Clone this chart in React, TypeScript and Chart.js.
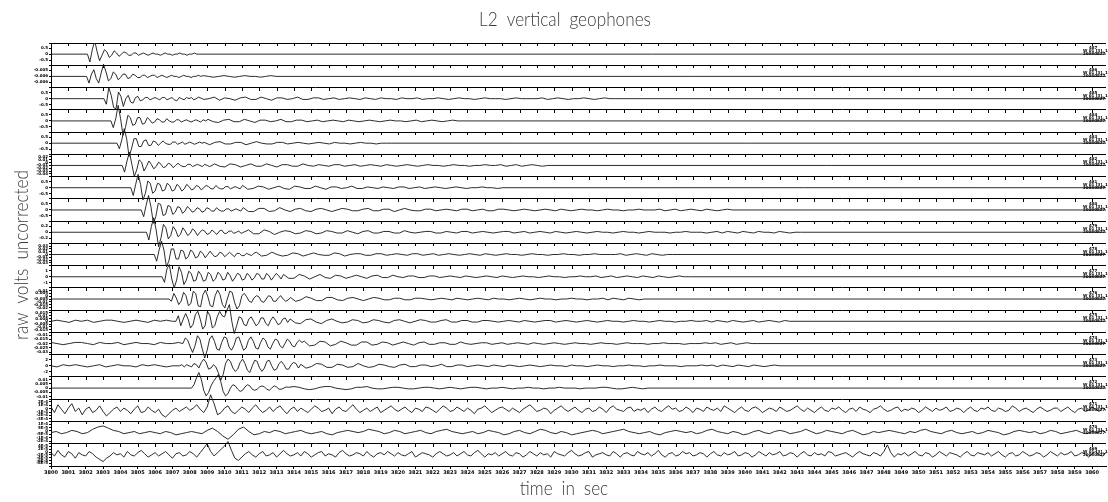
import React, { useEffect, useRef } from 'react';
import { Chart, registerables } from 'chart.js';

Chart.register(...registerables);

// ---------------- text ----------------
const TITLE = 'L2 vertical geophones';
const X_TITLE = 'time in sec';
const Y_TITLE = 'raw volts uncorrected';

// ---------------- axes ----------------
const X_MIN = 0;
const X_MAX = 60.8;
const X_TICK_VALUES = Array.from({ length: 61 }, (_, k) => k);
const X_TICK_LABELS = X_TICK_VALUES.map((k) => String(3800 + k));

const PANEL_COUNT = 19;

// y tick labels per panel (top to bottom inside each panel)
const Y_TICK_LABELS: string[][] = [
  ['0.5', '0', '-0.5'],
  ['-0.005', '-0.006', '-0.006'],
  ['0.5', '0', '-0.5'],
  ['0.5', '0', '-0.5'],
  ['0.5', '0', '-0.5'],
  ['0.02', '0.01', '0', '-0.01', '-0.02', '-0.03', '-0.04'],
  ['0.5', '0', '-0.5'],
  ['0.5', '0', '-0.5'],
  ['0.2', '0', '-0.2'],
  ['0.03', '0.02', '0.01', '0', '-0.01', '-0.02', '-0.03'],
  ['1', '0', '-1'],
  ['0.01', '0.005', '0', '-0.005', '-0.01', '-0.015', '-0.02'],
  ['0.015', '0.01', '0.005', '0', '-0.005', '-0.01', '-0.015'],
  ['-0.01', '-0.015', '-0.02', '-0.025', '-0.03'],
  ['2', '0', '-2'],
  ['0.01', '0.005', '0', '-0.005', '-0.01'],
  ['2E-4', '1E-4', '0', '-1E-4', '-2E-4', '-3E-4'],
  ['1E-4', '5E-5', '0', '-5E-5', '-1E-4', '-2E-4'],
  ['4E-5', '2E-5', '0', '-2E-5', '-4E-5', '-6E-5', '-8E-5'],
];

// right-hand trace annotations
const RIGHT_LINE1 = ['487', '486', '485', '484', '483', '482', '481', '480', '479', '478', '477', '476', '475', '474', '473', '472', '471', '470', '469'];
const RIGHT_LINE2 = 'W 01 [3], 10';
const RIGHT_LINE3 = '20080827';

// ---------------- waveform data ----------------
// burst amplitudes: tenths of half a panel; coda amplitudes in smaller steps
const AMP = 0.05;
const CODA_AMP = 0.035;
const PRE_DT = 0.35;
const BURST_DT = 0.14;
const CODA_DT = 0.3;
const NOISE_DTS = [0.2, 0.3, 0.2];

const ONSETS = [2.1, 2.05, 3.05, 3.45, 3.8, 4.1, 4.6, 5.2, 5.5, 5.95, 6.4, 6.8, 7.2, 7.6, 7.4, 8.1];

const PRE_NOISE: number[][] = [
  [], [], [], [], [], [], [], [], [], [], [], [],
  [0, 1, 0, -1, 1, 0, 1, -1, 0, 1, 1, 0, -1, 0, 1, 0, -1, 1, 0, 1, 0],
  [1, 0, -1, 0, 1, 1, 0, -1, 1, 0, 0, 1, -1, 0, 1, 0, 0, -1, 1, 0, 0, 1],
  [0, -1, 1, 0, 1, 0, -1, 0, 1, -1, 0, 1, 0, 0, -1, 1, 0, 1, 0, -1, 0],
  [],
];

const BURSTS: number[][] = [
  [0, -7, 4, 12, 2, -6, -1, 4, 2, -3, -1, 3, 1, -2, 0, 2, 1, -1, -1, 1, 1, -1, 0, 1, 0, -1, 0, 1, 0, 0, -1, 0, 1, 0, 0, -1, 0, 0, 1, 0, 0, -1, 0, 0, 1, 0],
  [0, -6, 2, 6, -2, -6, 3, 11, 4, -4, -2, 4, 2, -3, -1, 2, 2, -2, -1, 2, 1, -1, -1, 1, 1, -1, 0, 1, 1, -1, 0, 1, 0, -1, 0, 1, 0, 0, -1, 0, 1, 0, 0, -1, 0, 0, 1, 0],
  [0, -5, 10, 3, -8, -9, 6, 2, -7, 0, 3, -3, -4, 1, 2, -2, -1, 1, 1, -1, 0, 1, 0, -1, 1, 1, -1, 0, 1, -1, -2, 1, 0, -1, 1, 0, 1, -1, 0],
  [0, -6, 2, 14, 2, -13, -6, 5, 3, -4, -3, 3, 3, -3, -2, 3, 1, -2, -1, 2, 1, -1, -1, 2, 0, -1, -1, 1, 1, -1, 0, 1, 0, -1, 0, 1, 0, -1, 1, 0],
  [0, -5, 3, 13, 4, -12, -5, 4, 4, -3, -3, 2, 3, -2, -2, 2, 1, -2, 0, 2, 0, -1, -1, 1, 1, -1, 0, 1, -1, 0, 1, 0, -1, 0, 1, 0],
  [0, -6, 4, 12, 1, -10, -4, 5, 3, -5, -1, 4, 1, -3, -1, 3, 1, -2, -1, 2, 1, -2, 0, 2, 0, -1, -1, 1, 1, -1, 0, 1, 0, -1, 1, 0, -1, 0],
  [0, -7, 3, 12, 3, -11, -5, 6, 4, -5, -3, 4, 3, -3, -2, 4, 2, -3, -2, 3, 1, -3, -1, 3, 1, -2, -1, 2, 1, -2, 0, 2, 1, -1, -1, 2, 0, -1, -1, 1, 1, -1, 0, 1, 0, -1],
  [0, -6, 4, 13, 3, -12, -6, 6, 5, -5, -4, 4, 3, -4, -2, 3, 2, -3, -1, 3, 1, -2, -1, 2, 1, -2, -1, 2, 1, -1, -1, 2, 0, -1, -1, 1, 1, -1, 0, 1, 0, -1],
  [0, -7, 5, 13, 2, -13, -5, 7, 4, -6, -3, 5, 2, -4, -2, 4, 1, -3, -1, 3, 1, -3, 0, 2, 1, -2, -1, 2, 0, -2, 1, 2, -1, -1, 1, 1, -1, 0, 1, -1, 0, 1],
  [0, -6, 4, 12, 4, -11, -6, 5, 5, -4, -4, 4, 3, -4, -2, 4, 2, -3, -2, 3, 1, -3, 0, 3, 0, -2, -1, 2, 1, -2, 0, 2, 0, -2, 1, 1, -1, -1, 1, 0, -1, 1],
  [0, -5, 7, 11, -2, -10, -3, 9, 4, -7, -3, 5, 3, -4, -3, 5, 2, -4, -3, 4, 2, -4, -2, 4, 2, -3, -2, 4, 1, -4, -1, 3, 2, -3, -2, 3, 1, -3, -1, 3, 2, -2, -2, 3, 1, -3, 0, 3, 1, -2],
  [0, -2, 5, 1, -5, -2, 6, 3, -6, -4, 7, 5, -6, -7, 4, 8, 2, -6, -7, 3, 8, 4, -5, -8, 0, 7, 6, -3, -9, -6, 3, 5, 2, -2, -3, 1, 3, 2, -2, -3, 0, 3, 2, -2, -2, 1, 3, 0, -2, -1],
  [0, 5, -4, 2, 7, 2, -6, -3, 6, 9, 2, -7, -4, 9, 5, -6, -4, 4, 9, 5, 4, 10, 15, 0, -11, -4, 4, 3, -3, -4, 2, 4, 0, -4, -2, 3, 3, -2, -4, 1, 4, 1, -3, -2, 2, 3, -1],
  [0, 5, 3, -3, -8, -2, 7, 4, -5, -13, -6, 4, 7, 2, -5, -6, 1, 6, 5, -3, -6, -2, 5, 6, 0, -6, -4, 3, 6, 2, -4, -5, 1, 5, 3, -3, -5, 0, 4, 3, -2, -4, 0, 4, 2, -2, -3, 1, 3, 1],
  [0, 1, -1, 1, 0, -1, 2, 1, -2, 3, 6, 3, -3, -2, 1, -1, -6, -13, -8, 2, 6, 4, -2, -5, -3, 3, 6, 2, -4, -6, 0, 5, 4, -2, -5, -2, 4, 5, 0, -4, -3, 2, 4, 1, -3, -3, 1, 3, 2, -2],
  [0, 3, 9, 14, 8, -2, -7, -4, 2, 6, 9, 12, 6, -3, -7, -5, 0, 3, 2, -1, -3, -2, 1, 3, 2, -1, -2, -1, 1, 2, 1, -1, -2, 0, 2, 1, -1, -1, 0, 1],
];

const CODAS: number[][] = [
  [],
  [1, 0, -1, 0, 1, 0, -1, 0, 1, 0, 0, -1, 0, 1],
  [2, -1, 0, 2, -2, 1, 0, -2, 1, 2, -1, -1, 2, 0, -2, 1, 1, -1, 0, 2, -1, -1, 1, 1, -1, 0, 1, -1, 0, 1, 0, -1, 1, 0, -1, 1, 0, 0, -1, 1, 0, 0, 1, -1, 0, 0, 1, 0, -1, 0, 1, 0, 0, -1, 0, 1, 0, 0, 0, -1, 0, 1, 0, 0, 0, 0, 1, -1, 0, 1, 0, -1, 0, 0, 1, 0, -1, 0, 1, 0],
  [2, -1, -2, 1, 2, -1, -1, 2, 0, -2, 1, 1, -1, 0, 2, -1, -1, 1, 1, -1, 0, 1, -1, 0, 1, 0, -1, 1, 0, -1, 0, 1, 0, -1, 0, 1, 0, 0, -1, 0, 1, -1, 0, 1, 0, -1, 0, 1],
  [1, -2, 1, 2, -1, -1, 1, 1, -2, 0, 2, 0, -1, -1, 1, 1, -1, 0, 1, 0, -1, 0, 1, 0, -1, 1, 0, 0, -1, 0, 1, 0, 0, -1, 0],
  [2, -1, -2, 2, 1, -2, 0, 2, -1, -1, 2, 0, -2, 1, 1, -1, -1, 2, 0, -1, 1, 0, -1, 1, 1, -1, 0, 1, -1, 0, 1, 0, -1, 1, 0, -1, 0, 1, 0, -1, 0, 1, 0, 0, -1, 0, 1, 0, 0, -1, 0, 0, 1, 0, 0, 1, -1, 0, 1, -1, 0, 1, 0, -1],
  [3, -2, -1, 2, 1, -2, 0, 2, -1, -2, 2, 1, -1, -1, 2, 0, -2, 1, 1, -1, 0, 2, -1, -1, 1, 0, -1, 1, 0, -1, 1, 1, -1, 0, 1, -1, 0, 1, 0, -1, 0, 1, 0, -1, 0, 0, 1, 0, 0, -1],
  [3, -2, -2, 2, 2, -2, -1, 3, 0, -2, 1, 2, -1, -2, 1, 2, 0, -2, 0, 2, 1, -1, -1, 1, 2, -1, -1, 1, 1, -2, 0, 2, 0, -1, -1, 1, 1, -1, 0, 1, 0, -1, 1, 1, -1, 0, 1, -1, -1, 1, 1, 0, -1, 0, 1, 0, -1, 0, 1, 0, -1, 1, 0, -1, 0, 1, 0, 0, -1, 0, 1, 0, 0, -1, 0, 0, 1, 0, 0, 0, 1, -1, 0, 1, -1, 0, 1, 0, -1, 1, 0, -1, 0, 1],
  [3, -2, -2, 3, 1, -3, 0, 2, 1, -2, -1, 2, 1, -2, -1, 2, 1, -1, -1, 2, 0, -2, 1, 2, -1, -1, 1, 1, -1, -1, 2, 0, -1, 0, 1, 1, -1, -1, 1, 0, -1, 1, 1, -1, 0, 1, 0, -1, 0, 1, 1, -1, 0, 1, -1, 0, 1, 0, -1, 1, 0, -1, 0, 1, 0, -1, 0, 1, 0, 0, -1, 0, 1, 0, 0, -1, 0, 1, 0, 0, 0, -1, 0, 0, 1, 0, 0, 0, -1, 0, 1, -1, 1, 0, -1, 1, 0, -1, 1, 0, 0, -1, 1, 0, -1, 0],
  [3, -2, -1, 3, 0, -2, -1, 2, 1, -2, 0, 2, 0, -1, -1, 2, 1, -2, 0, 1, 1, -1, -1, 1, 1, -1, 0, 1, 0, -1, 1, 1, -1, 0, 1, -1, 0, 1, 0, -1, 0, 1, 0, -1, 1, 0, -1, 0, 1, 0, 0, -1, 0, 1, 0, 0, -1, 0, 0, 1, 0, 0, -1, 0, 0, 1, 0, 0, 0, 0, 1, -1, 0, 1, 0, -1, 1, 0, -1, 0],
  [3, -2, -2, 3, 1, -3, 0, 3, -1, -2, 2, 1, -2, 0, 2, 0, -2, 1, 2, -1, -1, 2, 0, -1, 1, 1, -1, -1, 1, 1, -1, 0, 1, 0, -1, 1, 0, -1, 0, 1, 0, -1, 1, 0, -1, 0, 1, 0, 0, -1, 0, 1, 0, 0, -1, 0, 0, 1, 0, 0, 1, -1, 0, 1, -1, 0, 1, 0, -1, 1, 0, -1, 1, 0, -1, 0, 1, 0],
  [2, -3, -1, 3, 1, -2, -2, 2, 2, -1, -2, 1, 2, 0, -2, 0, 2, 1, -1, -1, 1, 1, -1, -1, 1, 1, 0, -1, 0, 1, 0, -1, 1, 0, -1, 0, 1, 0, -1, 1, 0, 0, -1, 0, 1, 0, -1, 0, 1, 0, 0, -1, 0, 0, 1, 0, 0, -1, 0, 0, 1, -1, 1, 0, -1, 1, 0, -1],
  [3, -2, -3, 2, 3, -1, -3, 1, 3, 0, -2, -1, 2, 1, -2, -1, 2, 1, -1, -2, 1, 2, 0, -2, 0, 2, 1, -1, -1, 1, 2, -1, -1, 1, 1, -1, -1, 1, 1, 0, -1, 0, 1, 0, -1, 1, 0, -1, 0, 1, 1, -1, 0, 1, 0, -1, 0, 1, 0, -1, 0, 1, 0, 0, -1, 0, 1, 0, 0, -1, 0, 1, 0, 0, -1, 0, 0, 1, 0, 0, 1, -1, 1, 0, -1, 1, 0, -1, 0, 1, -1, 0, 1, 0, -1, 1],
  [3, -3, -2, 3, 2, -3, -1, 3, 1, -2, -2, 2, 2, -2, -1, 2, 1, -2, 0, 2, 0, -2, 1, 2, -1, -1, 1, 1, -1, -1, 2, 0, -1, 0, 1, 1, -1, 0, 1, -1, 0, 1, 0, -1, 1, 0, -1, 0, 1, 0, -1, 0, 1, 0, 0, -1, 0, 1, 0, 0, -1, 0, 1, 0, 0, 0, -1, 0, 0, 1, 0, 0, 0, -1, 0, 0, 0, 1, 0, 1, -1, 0, 1, -1, 0, 1, 0],
  [2, -3, -1, 3, 2, -2, -2, 2, 1, -2, -1, 3, 0, -2, -1, 2, 1, -1, -2, 1, 2, -1, -1, 1, 1, -1, 0, 2, -1, -1, 1, 1, -1, 0, 1, 0, -1, 1, 0, -1, 1, 0, -1, 0, 1, 0, -1, 0, 1, 0, 0, -1, 1, 0, 0, -1, 0, 1, 0, 0, -1, 0, 0, 1, 0, 0, -1, 0, 0, 1, 0, 0, 0, -1, 0, 0, 0, 1, 0, 1, -1, 1, 0, -1, 1, 0, -1, 1, 0, -1, 0, 1],
  [1, 2, 1, -1, -2, -1, 1, 2, 2, 0, -1, -2, -1, 1, 1, 2, 0, -1, -1, 0, 1, 1, 0, -1, -1, 0, 1, 1, 0, -1, 0, 1, 0, -1, 0, 1, 1, 0, -1, 0, 0, 1, 0, -1, 0, 0, 1, 0, 0, -1, 0, 0, 1, 0, 0, 0, -1, 0, 0, 0, 1, 1, 0, -1, -1, 0, 1, 0, -1, 0],
];

const NOISE_17 = [
  3, -2, 5, 1, -3, 2, 6, -1, 2, -4, 1, 3, -2, 0, 4, -1, -5, -2, 1, 3,
  -1, 2, 0, -3, 1, 4, -2, -1, 3, 0, -2, 1, -4, -6, -3, 0, 2, -1, 1, 3,
  0, 2, 5, 1, -2, 3, 14, 6, -4, -2, 2, 4, -1, -3, 0, 3, 1, -2, 2, 5,
  1, -2, 0, 3, -1, 2, 4, 0, -3, 1, 3, -1, 2, 0, -2, 1, 4, 2, -1, 0,
  2, -3, 1, 3, 0, -1, 2, 5, 1, -2, 0, 2, -1, 1, 3, -2, 0, 2, 4, 1,
  -1, 1, 3, 0, -2, 2, 1, -1, 3, 2, 0, -2, 1, 4, 2, -1, 0, 3, 1, -1,
  2, 0, -3, 1, 2, 4, 1, -2, 0, 2, 3, 1, -1, 2, 0, -2, 1, 3, 5, 2,
  -1, 0, 2, 1, -3, 0, 2, 4, 1, -1, 1, 3, 0, -2, 1, 2, -1, 0, 3, 1,
  -2, 2, 4, 1, 0, -1, 2, 3, -1, 1, 0, 2, -2, 1, 3, 0, -1, 2, 4, 1,
  2, -1, 0, 3, 1, -2, 2, 1, -1, 3, 1, 0, 2, -1, 4, 2, 0, -2, 1, 3,
  0, -1, 2, 3, 1, -2, 0, 2, 1, -1, 3, 1, -1, 0, 2, 4, 1, -1, 2, 0,
  -2, 1, 3, 0, -1, 2, 1, 3, 0, -2, 1, 2, -1, 3, 1, 0, -2, 1, 2, 4,
  1, -1, 0, 2, 3, -1, 1, 0, 2, 1, -2, 0, 3, 1, -1, 2, 0, 1, 3, -1,
  0, 2, 1, -2, 1, 3, 0, -1, 2, 1, 3, 0, -1, 2, 1, -1, 0, 4, 2, -1,
  1, 2, 0, -2, 1, 3, 1, -1, 0, 2, 2, -1, 1, 3, 0, -2, 1, 2, -1, 0,
  3, 1, -1, 2, 0,
];

const NOISE_18 = [
  0, 1, -1, 0, 2, 1, -1, 0, 3, 5, 6, 4, 2, 1, -1, 0, 1, -1, 0, 1,
  0, -1, 1, 0, -2, -1, 0, 1, 0, -1, 2, 4, 1, -3, -6, -2, 3, 5, 1, -2,
  -1, 1, 0, 2, 1, -1, 0, 1, 2, 0, -1, 0, 1, -1, -2, 0, 1, 2, 1, 0,
  1, 3, 2, 1, -1, 0, 2, 1, -1, 0, 1, 2, 0, -1, 1, 2, 3, 1, 0, -1,
  0, 1, -1, 0, 2, 1, 0, -2, -1, 1, 2, 0, -1, 1, 3, 2, 0, -1, 1, 0,
  -2, -1, 0, 1, 2, 1, -1, 0, 1, 2, 3, 1, 0, -1, 0, 1, -1, -2, 0, 1,
  2, 1, 0, 1, -1, 0, 2, 3, 1, 0, -1, 1, 0, -2, -1, 1, 2, 0, -1, 1,
  2, 1, -1, 0, 1, 3, 1, -1, 0, 2, 1, 0, -1, 1, 2, 0, -2, -1, 1, 0,
  1, 2, 1, 0, -1, 1, 0, 2, 3, 1, 0, -1, 1, 2, 0, -1, 0, 1, -1, 0,
  2, 1, 0, -2, -1, 1, 2, 1, 0, 1, -1, 0, 2, 1, -1, 0, 1, 2, 0, -1,
  1, 0, 2, -1,
];

const NOISE_19 = [
  2, -1, 4, 0, -2, 3, 1, -3, 2, 0, -1, 3, 1, -2, -4, -6, -3, -1, 2, 0,
  1, -2, 3, 0, -1, 2, 4, 1, -2, 0, 2, -1, 1, 3, 0, -3, 1, 2, -1, 0,
  3, 1, -2, 2, 6, 10, 3, -1, 2, 5, 8, 12, 4, -3, -5, -2, 1, 3, 0, -2,
  1, 3, -1, 0, 2, -2, 1, 4, 1, -1, 0, 2, -1, 3, 1, -2, 0, 2, 3, -1,
  1, 0, -2, 2, 4, 1, -1, 0, 2, 1, -1, 3, 0, -2, 1, 2, 0, 3, 1, -1,
  2, 0, -1, 1, 3, -2, 0, 2, 1, 0, -2, 1, 3, 1, -1, 0, 2, -1, 1, 3,
  0, -1, 2, 4, 1, -2, 1, 0, 2, -1, 1, 3, 0, -1, 2, 1, -2, 0, 3, 1,
  -1, 2, 0, 1, -2, 3, 1, 0, -1, 2, 4, 1, -1, 0, 2, 3, -2, 0, 1, 2,
  0, -1, 3, 1, -2, 1, 2, 0, -1, 3, 1, 0, 2, -1, 1, 4, 0, -2, 1, 2,
  -1, 0, 3, 1, 2, -1, 0, 2, 1, -2, 1, 3, 0, -1, 2, 0, 1, 3, -1, 0,
  2, 1, -2, 0, 3, 1, -1, 2, 0, 1, 3, -1, 0, 2, 1, -2, 1, 3, 0, -1,
  2, 0, 1, -1, 3, 2, -1, 0, 1, 2, 0, -2, 1, 3, 1, 0, -1, 2, 1, -1,
  3, 9, 2, -2, 1, 0, 2, -1, 1, 3, 0, -1, 2, 1, -2, 0, 3, 1, -1, 2,
  1, 0, -2, 1, 3, 0, -1, 2, 1, 0, 2, -1, 1, 3, 0, -2, 1, 2, -1, 0,
  3, 1, -1, 0, 2, 1, -2, 0, 3, 1, -1, 2, 0, 1, 3, -1, 0, 2, 1, -2,
  1, 3, 0, -1, 2,
];

const NOISES = [NOISE_17, NOISE_18, NOISE_19];

// ---------------- build ----------------
type Pt = { x: number; y: number };

function buildTrace(i: number): Pt[] {
  const base = PANEL_COUNT - i;
  const pts: Pt[] = [];
  if (i >= ONSETS.length) {
    const j = i - ONSETS.length;
    NOISES[j].forEach((v, k) => pts.push({ x: k * NOISE_DTS[j], y: base + v * AMP }));
    return pts;
  }
  const onset = ONSETS[i];
  const pre = PRE_NOISE[i];
  if (pre.length) {
    pre.forEach((v, k) => {
      if (k * PRE_DT < onset) pts.push({ x: k * PRE_DT, y: base + v * AMP });
    });
  } else {
    pts.push({ x: X_MIN, y: base });
  }
  const burst = BURSTS[i];
  burst.forEach((v, k) => pts.push({ x: onset + k * BURST_DT, y: base + v * AMP }));
  const codaStart = onset + burst.length * BURST_DT;
  const coda = CODAS[i];
  coda.forEach((v, k) => pts.push({ x: codaStart + k * CODA_DT, y: base + v * CODA_AMP }));
  pts.push({ x: codaStart + coda.length * CODA_DT, y: base });
  pts.push({ x: X_MAX, y: base });
  return pts;
}

// y ticks: panel boundaries (no label) + labelled ticks inside each panel
const yTickLabelMap = new Map<string, string>();
const yTickValues: number[] = [];
for (let k = 0; k <= PANEL_COUNT; k++) {
  yTickValues.push(k + 0.5);
  yTickLabelMap.set((k + 0.5).toFixed(4), '');
}
Y_TICK_LABELS.forEach((labels, i) => {
  const base = PANEL_COUNT - i;
  const n = labels.length;
  const span = n <= 3 ? 0.27 : 0.38;
  labels.forEach((lab, j) => {
    const v = base + span - (2 * span * j) / (n - 1);
    yTickValues.push(v);
    yTickLabelMap.set(v.toFixed(4), lab);
  });
});
yTickValues.sort((a, b) => a - b);

const isBoundary = (v: number) => Math.abs(v - 0.5 - Math.round(v - 0.5)) < 1e-6;

const TEXT_FONT = '300 20px Lato, "DejaVu Sans", sans-serif';
const TEXT_COLOR = '#3a3a3a';

const panelDecor = {
  id: 'panelDecor',
  beforeDatasetsDraw(chart: any) {
    const { ctx, scales } = chart;
    const x = scales.x;
    const y = scales.y;
    ctx.save();
    ctx.strokeStyle = '#000';
    ctx.lineWidth = 1;
    ctx.beginPath();
    for (let k = 1; k <= PANEL_COUNT; k++) {
      const py = Math.round(y.getPixelForValue(k + 0.5));
      for (const t of x.ticks) {
        const px = Math.round(x.getPixelForValue(t.value)) + 0.5;
        ctx.moveTo(px, py);
        ctx.lineTo(px, py + 3);
      }
    }
    ctx.stroke();
    ctx.restore();
  },
  afterDatasetsDraw(chart: any) {
    const { ctx, scales } = chart;
    const y = scales.y;
    ctx.save();
    ctx.fillStyle = '#000';
    ctx.textBaseline = 'middle';
    ctx.textAlign = 'left';
    ctx.font = 'bold 4px "DejaVu Sans"';
    for (let i = 0; i < PANEL_COUNT; i++) {
      const py = y.getPixelForValue(PANEL_COUNT - i);
      ctx.fillText(RIGHT_LINE1[i], 1089, py - 6);
      ctx.fillText(RIGHT_LINE2, 1083, py - 3);
      ctx.fillText(RIGHT_LINE3, 1083, py);
    }
    ctx.restore();
  },
  afterDraw(chart: any) {
    const ctx = chart.ctx;
    const draw = (text: string, x: number, y: number, rot: number) => {
      ctx.save();
      ctx.translate(x, y);
      ctx.rotate(rot);
      ctx.scale(0.86, 1);
      ctx.font = TEXT_FONT;
      (ctx as any).wordSpacing = '5px';
      ctx.fillStyle = TEXT_COLOR;
      ctx.textAlign = 'center';
      ctx.textBaseline = 'middle';
      ctx.fillText(text, 0, 0);
      ctx.restore();
    };
    draw(TITLE, 565, 20, 0);
    draw(X_TITLE, 564, 489, 0);
    draw(Y_TITLE, 22, 255, -Math.PI / 2);
  },
};

export default function App() {
  const ref = useRef<HTMLCanvasElement>(null);
  useEffect(() => {
    document.body.style.margin = '0';
    const datasets = Array.from({ length: PANEL_COUNT }, (_, i) => ({
      label: `trace ${i + 1}`,
      data: buildTrace(i),
      borderColor: '#151515',
      borderWidth: 0.9,
      pointRadius: 0,
      tension: 0,
      fill: false,
    }));
    const chart = new Chart(ref.current as HTMLCanvasElement, {
      type: 'line',
      data: { datasets },
      plugins: [panelDecor],
      options: {
        responsive: false,
        animation: false,
        layout: { padding: { left: 33, right: 2, top: 43, bottom: 25 } },
        plugins: {
          legend: { display: false },
          tooltip: { enabled: false },
          title: { display: false },
        },
        scales: {
          x: {
            type: 'linear',
            min: X_MIN,
            max: X_MAX,
            afterBuildTicks: (s: any) => {
              s.ticks = X_TICK_VALUES.map((v) => ({ value: v }));
            },
            ticks: {
              autoSkip: false,
              maxRotation: 0,
              padding: 1,
              color: '#000',
              font: { family: '"DejaVu Sans"', size: 5, weight: 'bold' as any },
              callback: (_v: any, idx: number) => X_TICK_LABELS[idx],
            },
            grid: { drawOnChartArea: false, tickLength: 3, tickColor: '#000' },
            border: { color: '#000' },
          },
          y: {
            type: 'linear',
            min: 0.5,
            max: PANEL_COUNT + 0.5,
            afterBuildTicks: (s: any) => {
              s.ticks = yTickValues.map((v) => ({ value: v }));
            },
            afterFit: (s: any) => {
              s.width = 18;
            },
            ticks: {
              autoSkip: false,
              padding: 1,
              color: '#000',
              font: { family: '"DejaVu Sans"', size: 4, weight: 'bold' as any },
              callback: (v: any) => yTickLabelMap.get(Number(v).toFixed(4)) ?? '',
            },
            grid: {
              drawOnChartArea: true,
              tickLength: 2,
              tickColor: '#000',
              lineWidth: 1,
              color: (c: any) => (c.tick && isBoundary(c.tick.value) ? '#000' : 'rgba(0,0,0,0)'),
            },
            border: { color: '#000' },
          },
        },
      },
    } as any);
    return () => chart.destroy();
  }, []);
  return (
    <div style={{ width: 1108, height: 502, background: '#fff' }}>
      <canvas ref={ref} width={1108} height={502} style={{ display: 'block' }} />
    </div>
  );
}
